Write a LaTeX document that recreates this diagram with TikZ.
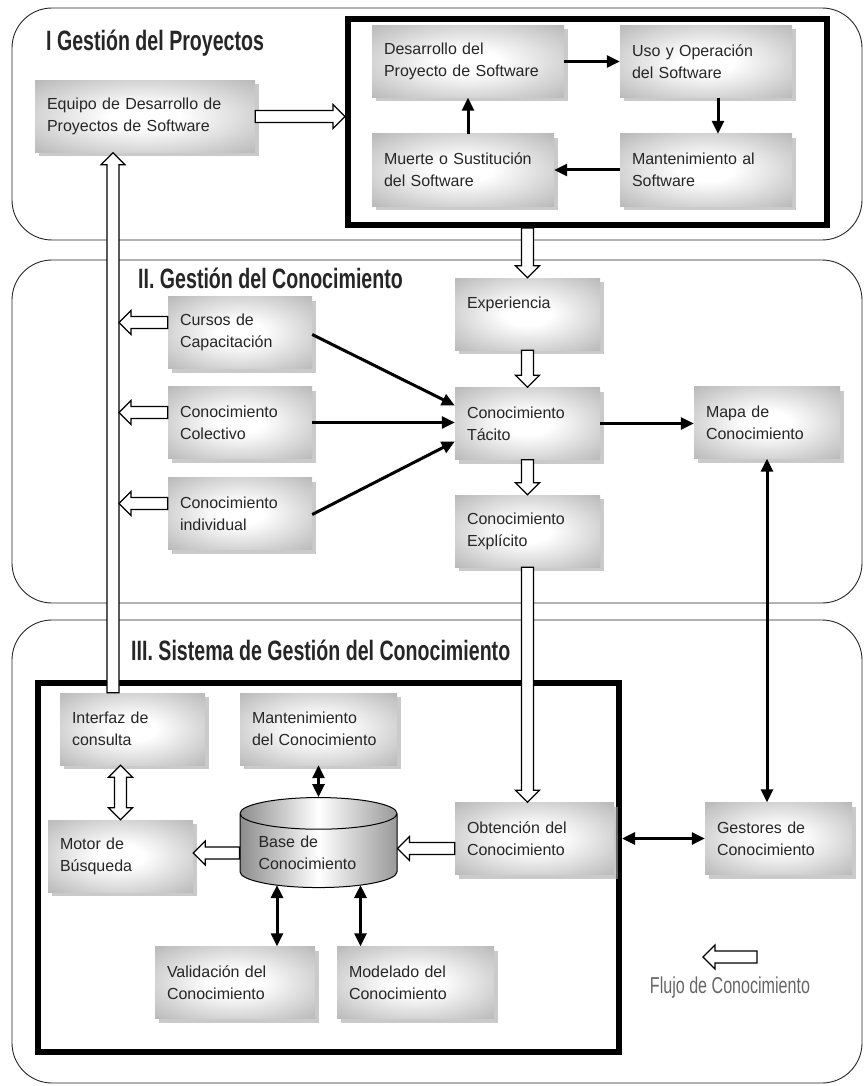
\documentclass[tikz,border=0pt]{standalone}
\usepackage{fontspec}
\setmainfont{Liberation Sans}
\newfontfamily\titlefont[FakeStretch=0.7]{Liberation Sans}
\usetikzlibrary{calc,shapes.geometric,shadows,arrows.meta}
\pgfdeclareradialshading{sombreado}{\pgfpoint{0bp}{0bp}}{color(0bp)=(white); color(8bp)=(white); color(30bp)=(black!22); color(50bp)=(black!42); color(72bp)=(black!50)}
\begin{document}
\begin{tikzpicture}[x=1pt,y=-1pt,
  caja/.style={rectangle, shading=sombreado, drop shadow={shadow xshift=4pt, shadow yshift=-4pt, fill=black!35, opacity=0.6},
    minimum height=72pt, text width=#1, inner xsep=12pt, align=left, font=\fontsize{16}{22}\selectfont, text=black!85},
  seccion/.style={draw=black!85, line width=0.9pt, rounded corners=40pt},
  marco/.style={draw, line width=6pt},
  titulo/.style={font=\titlefont\bfseries\fontsize{28}{30}\selectfont, text=black!85, anchor=west, inner sep=0pt},
  flecha/.style={line width=3pt, -{Triangle[length=13pt,width=12pt]}},
  dflecha/.style={line width=3pt, {Triangle[length=13pt,width=12pt]}-{Triangle[length=13pt,width=12pt]}},
  hueca/.style={draw, fill=white, line width=1.2pt, to path={
    let \p1=(\tikztostart), \p2=(\tikztotarget),
        \n1={atan2(\y2-\y1,\x2-\x1)}, \n2={veclen(\x2-\x1,\y2-\y1)}, \n3={\n2-12pt} in
    [shift={(\p1)}, rotate=\n1]
    (0pt,-6pt) -- (\n3,-6pt) -- (\n3,-12pt) -- (\n2,0pt) -- (\n3,12pt) -- (\n3,6pt) -- (0pt,6pt) -- cycle}},
  hueca2/.style={draw, fill=white, line width=1.2pt, to path={
    let \p1=(\tikztostart), \p2=(\tikztotarget),
        \n1={atan2(\y2-\y1,\x2-\x1)}, \n2={veclen(\x2-\x1,\y2-\y1)}, \n3={\n2-12pt} in
    [shift={(\p1)}, rotate=\n1]
    (0pt,0pt) -- (12pt,-12pt) -- (12pt,-6pt) -- (\n3,-6pt) -- (\n3,-12pt) -- (\n2,0pt)
    -- (\n3,12pt) -- (\n3,6pt) -- (12pt,6pt) -- (12pt,12pt) -- cycle}}]
\useasboundingbox (0,0) rectangle (864,1086);

\draw[seccion] (12,8) rectangle (862,240);
\draw[seccion] (12,260) rectangle (862,603);
\draw[seccion] (12,620) rectangle (862,1083);

\node[marco, minimum width=479pt, minimum height=206pt] (ciclo) at (587.5,122) {};
\node[marco, minimum width=581pt, minimum height=369pt] (sgc) at (328.5,867.5) {};

\node[titulo] (t1) at (46,43) {I Gestión del Proyectos};
\node[titulo] (t2) at (138,278) {II. Gestión del Conocimiento};
\node[titulo] (t3) at (131,650) {III. Sistema de Gestión del Conocimiento};

\node[caja=196pt] (equipo) at (145,116.5) {Equipo de Desarrollo de\\Proyectos de Software};
\node[caja=168pt] (desarrollo) at (468,61.5) {Desarrollo del\\Proyecto de Software};
\node[caja=148pt] (uso) at (706,61.5) {Uso y Operación\\del Software};
\node[caja=148pt] (mantsw) at (706,170) {Mantenimiento al\\Software};
\node[caja=158pt] (muerte) at (463,170) {Muerte o Sustitución\\del Software};

\node[caja=120pt] (cursos) at (240,332.5) {Cursos de\\Capacitación};
\node[caja=120pt] (colectivo) at (240,422.5) {Conocimiento\\Colectivo};
\node[caja=120pt] (individual) at (240,513.5) {Conocimiento\\individual};
\node[caja=121pt] (experiencia) at (527.5,314) {Experiencia\\\mbox{}};
\node[caja=121pt] (tacito) at (527.5,423.5) {Conocimiento\\Tácito};
\node[caja=121pt] (explicito) at (527.5,531) {Conocimiento\\Explícito};
\node[caja=122pt] (mapa) at (767,422.5) {Mapa de\\Conocimiento};

\node[caja=121pt] (interfaz) at (132.5,729) {Interfaz de\\consulta};
\node[caja=133pt] (mantcon) at (318.5,729) {Mantenimiento\\del Conocimiento};
\node[caja=121pt] (motor) at (120.5,856) {Motor de\\Búsqueda};
\node[cylinder, shape border rotate=90, aspect=0.25, draw, line width=1pt,
  minimum width=157pt, minimum height=90pt, left color=black!45, right color=black!40, middle color=white,
  text width=120pt, align=left, font=\fontsize{16}{22}\selectfont, text=black!85] (base) at (318.5,853) {Base de\\Conocimiento};
\node[caja=135pt] (obtencion) at (534.5,838.5) {Obtención del\\Conocimiento};
\node[caja=123pt] (gestores) at (778.5,838.5) {Gestores de\\Conocimiento};
\node[caja=136pt] (validacion) at (235,982.5) {Validación del\\Conocimiento};
\node[caja=133pt] (modelado) at (415.5,982.5) {Modelado del\\Conocimiento};

\coordinate (eje) at (113,0);
\coordinate (ejeder) at (119,0);
\coordinate (leyini) at (757,957);
\coordinate (leyfin) at (703,957);
\node[font=\titlefont\fontsize{23}{25}\selectfont, text=black!60] (leyenda) at (730,988) {Flujo de Conocimiento};

\draw[flecha] (desarrollo) -- (uso);
\draw[flecha] ([xshift=12pt]uso.south) -- ([xshift=12pt]mantsw.north);
\draw[flecha] (mantsw) -- (muerte);
\draw[flecha] (desarrollo.south |- muerte.north) -- (desarrollo.south);
\draw[hueca] (equipo.east) to (equipo.east -| ciclo.west);

\draw[hueca] (ciclo.south -| experiencia) to (experiencia.north);
\draw[hueca] (experiencia.south) to (tacito.north);
\draw[hueca] (tacito.south) to (explicito.north);
\draw[hueca] (explicito.south) to (explicito.south |- obtencion.north);
\draw[hueca] (interfaz.north -| eje) to (equipo.south -| eje);
\draw[hueca] ($(cursos.west)+(0,-10)$) to ($(cursos.west -| ejeder)+(0,-10)$);
\draw[hueca] ($(colectivo.west)+(0,-10)$) to ($(colectivo.west -| ejeder)+(0,-10)$);
\draw[hueca] ($(individual.west)+(0,-10)$) to ($(individual.west -| ejeder)+(0,-10)$);
\draw[flecha] ($(cursos.east)+(0,2)$) -- ($(tacito.west)+(0,-18)$);
\draw[flecha] (colectivo.east) -- (colectivo.east -| tacito.west);
\draw[flecha] ($(individual.east)+(0,1)$) -- ($(tacito.west)+(0,18)$);
\draw[flecha] (tacito.east) -- (tacito.east -| mapa.west);
\draw[dflecha] (mapa.south) -- (mapa.south |- gestores.north);

\draw[hueca2] (motor.north |- interfaz.south) to (motor.north);
\draw[dflecha] (mantcon.south) -- (base.north);
\draw[hueca] (base.west) to (base.west -| motor.east);
\draw[hueca] ($(obtencion.west)+(0,10)$) to ($(obtencion.west -| base.east)+(0,10)$);
\draw[dflecha] ($(validacion.north)+(42,0)$) -- ($(base.south -| validacion.north)+(42,-3)$);
\draw[dflecha] ($(modelado.north)+(-55,0)$) -- ($(base.south -| modelado.north)+(-55,-3)$);
\draw[dflecha] (sgc.east |- gestores.west) -- (gestores.west);
\draw[hueca] (leyini) to (leyfin);
\end{tikzpicture}
\end{document}
